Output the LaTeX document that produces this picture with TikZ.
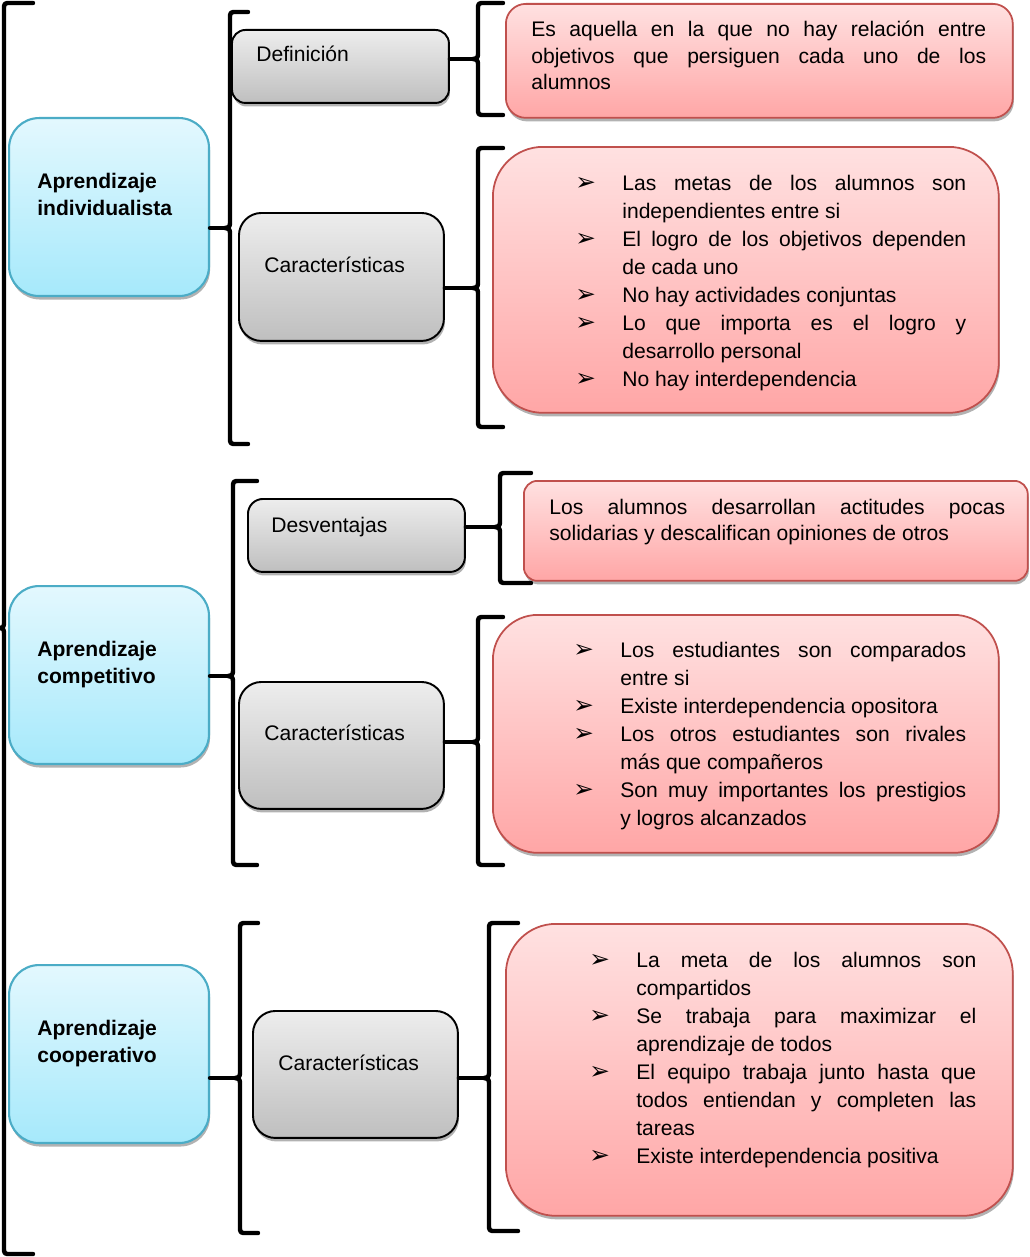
\documentclass[tikz,border=0pt]{standalone}
\usepackage{fontspec}
\setmainfont{Liberation Sans}
\newfontfamily\simbolo{DejaVu Sans}
\usetikzlibrary{calc,shadows}

\definecolor{azulborde}{HTML}{4BACC6}
\definecolor{azularriba}{HTML}{E3F8FE}
\definecolor{azulabajo}{HTML}{A6E9FB}
\definecolor{grisarriba}{HTML}{EDEDED}
\definecolor{grisabajo}{HTML}{BFBFBF}
\definecolor{rojoborde}{HTML}{C0504D}
\definecolor{rojoarriba}{HTML}{FFE1E1}
\definecolor{rojoabajo}{HTML}{FFA6A6}

\tolerance=10000
\hbadness=10000

\tikzset{
  sombra/.style={drop shadow={shadow xshift=0.6pt,shadow yshift=-2pt,opacity=0.3,fill=black}},
  azul/.style={draw=azulborde,line width=1.2pt,rounded corners=0.6cm,top color=azularriba,bottom color=azulabajo,anchor=north west,sombra},
  gris/.style={draw=black,line width=1.1pt,top color=grisarriba,bottom color=grisabajo,anchor=north west,sombra},
  rosa/.style={draw=rojoborde,line width=1pt,top color=rojoarriba,bottom color=rojoabajo,anchor=north west,sombra},
  corchete/.style={line width=2.5pt,line join=round,line cap=round},
  texto/.style={inner sep=0pt,anchor=base west,font=\fontsize{12}{15}\selectfont},
  parrafo/.style={texto,align=justify},
  lista/.style={texto,align=justify,font=\fontsize{12}{16}\selectfont}
}

% nodo, x, x final, y arriba, y medio, y abajo
\newcommand{\llave}[6]{%
  \draw[corchete] (#3,#4) -- (#2+7,#4) .. controls (#2,#4) .. (#2,#4+7) -- (#2,#5-8) .. controls (#2,#5-1) .. (#2-5,#5) .. controls (#2,#5+1) .. (#2,#5+8) -- (#2,#6-7) .. controls (#2,#6) .. (#2+7,#6) -- (#3,#6);
  \draw[corchete] (#1.east |- #2,#5) -- (#2-5,#5);
}
\newcommand{\vineta}[1]{\hangindent=0.94cm\hangafter=1\makebox[0.94cm][l]{\simbolo\fontsize{14}{10}\selectfont ➢}#1\par}

\begin{document}
\begin{tikzpicture}[x=0.02cm,y=-0.02cm]
  \useasboundingbox (0,0) rectangle (1029,1257);

  \node[azul,minimum width=4cm,minimum height=3.56cm] (indiv) at (8,117) {};
  \node[azul,minimum width=4cm,minimum height=3.56cm] (compet) at (8,585) {};
  \node[azul,minimum width=4cm,minimum height=3.56cm] (coop) at (8,964) {};

  \node[gris,rounded corners=0.27cm,minimum width=4.34cm,minimum height=1.46cm] (defin) at (231,29) {};
  \node[gris,rounded corners=0.45cm,minimum width=4.1cm,minimum height=2.56cm] (carac1) at (238,212) {};
  \node[gris,rounded corners=0.3cm,minimum width=4.34cm,minimum height=1.46cm] (desv) at (247,498) {};
  \node[gris,rounded corners=0.45cm,minimum width=4.1cm,minimum height=2.54cm] (carac2) at (238,681) {};
  \node[gris,rounded corners=0.45cm,minimum width=4.1cm,minimum height=2.54cm] (carac3) at (252,1010) {};

  \node[rosa,rounded corners=0.4cm,minimum width=10.14cm,minimum height=2.28cm] (def1) at (505,3) {};
  \node[rosa,rounded corners=1cm,minimum width=10.12cm,minimum height=5.32cm] (lista1) at (492,146) {};
  \node[rosa,rounded corners=0.27cm,minimum width=10.08cm,minimum height=2cm] (desv1) at (523,480) {};
  \node[rosa,rounded corners=0.9cm,minimum width=10.12cm,minimum height=4.76cm] (lista2) at (492,614) {};
  \node[rosa,rounded corners=1cm,minimum width=10.14cm,minimum height=5.84cm] (lista3) at (505,923) {};

  % corchetes
  \draw[corchete] (33,3) -- (11,3) .. controls (4,3) .. (4,10) -- (4,620) .. controls (4,627) .. (0,628) .. controls (4,629) .. (4,636) -- (4,1247) .. controls (4,1254) .. (11,1254) -- (33,1254);
  \llave{indiv}{230}{248}{12}{228}{444}
  \llave{defin}{478}{503}{3}{59}{115}
  \llave{carac1}{478}{503}{148}{288}{427}
  \llave{compet}{233}{257}{481}{676}{865}
  \llave{desv}{500}{531}{473}{527}{583}
  \llave{carac2}{478}{503}{617}{742}{865}
  \llave{coop}{240}{258}{923}{1078}{1233}
  \llave{carac3}{489}{518}{923}{1078}{1231}

  \node[texto,text width=3.4cm,align=left,font=\fontsize{12}{15.5}\selectfont\bfseries] (tindiv) at (37,188) {Aprendizaje\\individualista};
  \node[texto,text width=3.4cm,align=left,font=\fontsize{12}{15.5}\selectfont\bfseries] (tcompet) at (37,656) {Aprendizaje\\competitivo};
  \node[texto,text width=3.4cm,align=left,font=\fontsize{12}{15.5}\selectfont\bfseries] (tcoop) at (37,1035) {Aprendizaje\\cooperativo};

  \node[texto] (tdefin) at (256,62) {Definición};
  \node[texto] (tcarac1) at (264,272) {Características};
  \node[texto] (tdesv) at (271,532) {Desventajas};
  \node[texto] (tcarac2) at (264,740) {Características};
  \node[texto] (tcarac3) at (278,1070) {Características};

  \node[parrafo,text width=9.1cm] (tdef1) at (531,37) {Es aquella en la que no hay relación entre\linebreak objetivos que persiguen cada uno de los\linebreak alumnos};
  \node[lista,text width=7.82cm] (tlista1) at (575,190) {%
    \vineta{Las metas de los alumnos son\linebreak independientes entre si}%
    \vineta{El logro de los objetivos dependen\linebreak de cada uno}%
    \vineta{No hay actividades conjuntas}%
    \vineta{Lo que importa es el logro y\linebreak desarrollo personal}%
    \vineta{No hay interdependencia}};
  \node[parrafo,text width=9.12cm,font=\fontsize{12}{14.8}\selectfont] (tdesv1) at (549,514) {Los alumnos desarrollan actitudes pocas\linebreak solidarias y descalifican opiniones de otros};
  \node[lista,text width=7.86cm] (tlista2) at (573,657) {%
    \vineta{Los estudiantes son comparados\linebreak entre si}%
    \vineta{Existe interdependencia opositora}%
    \vineta{Los otros estudiantes son rivales\linebreak más que compañeros}%
    \vineta{Son muy importantes los prestigios\linebreak y logros alcanzados}};
  \node[lista,text width=7.74cm] (tlista3) at (589,967) {%
    \vineta{La meta de los alumnos son\linebreak compartidos}%
    \vineta{Se trabaja para maximizar el\linebreak aprendizaje de todos}%
    \vineta{El equipo trabaja junto hasta que\linebreak todos entiendan y completen las\linebreak tareas}%
    \vineta{Existe interdependencia positiva}};
\end{tikzpicture}
\end{document}
